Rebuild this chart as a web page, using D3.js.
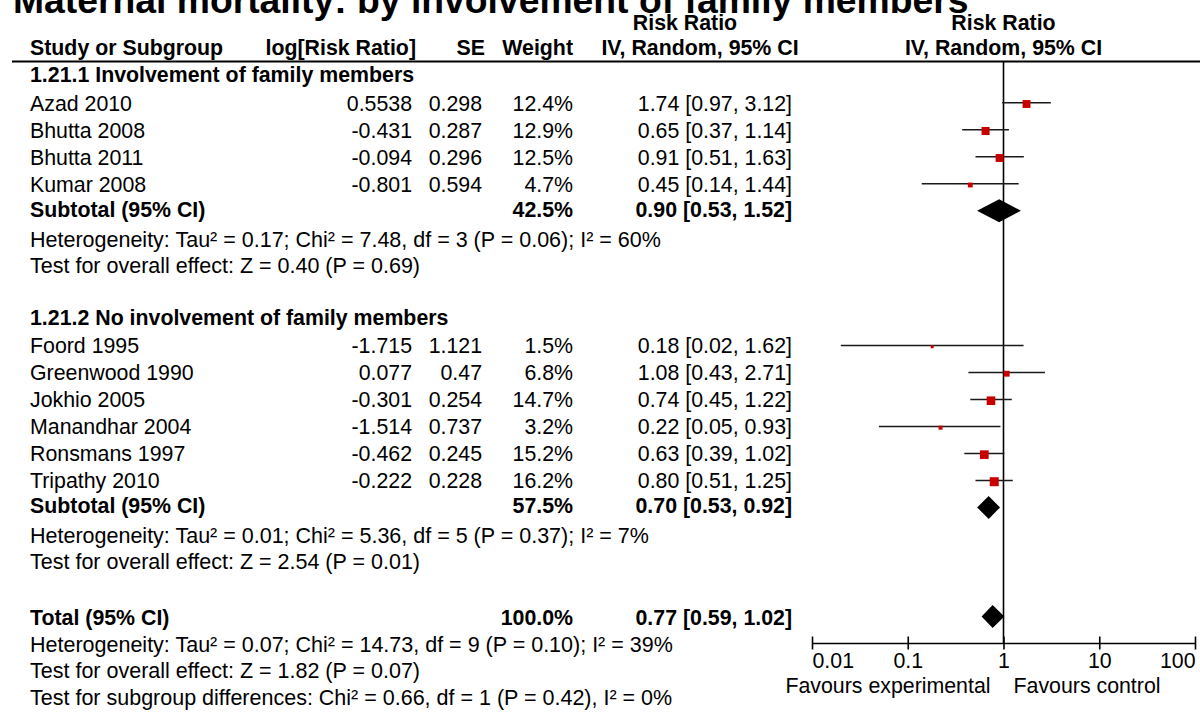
<!DOCTYPE html>
<html>
<head>
<meta charset="utf-8">
<script src="https://cdn.jsdelivr.net/npm/d3@7"></script>
<style>
  html, body { margin: 0; padding: 0; background: #fff; }
  svg { display: block; font-family: "Liberation Sans", Arial, Helvetica, sans-serif; }
</style>
</head>
<body>
<svg id="chart" width="1200" height="713"></svg>
<script>
// ---- data ----
const chartTitle = "Maternal mortality: by involvement of family members";
const groupTitles = ["1.21.1 Involvement of family members", "1.21.2 No involvement of family members"];

const group1Studies = ["Azad 2010", "Bhutta 2008", "Bhutta 2011", "Kumar 2008"];
const group1LogRR   = [0.5538, -0.431, -0.094, -0.801];
const group1SE      = [0.298, 0.287, 0.296, 0.594];
const group1Weight  = [12.4, 12.9, 12.5, 4.7];
const group1RR      = [1.74, 0.65, 0.91, 0.45];
const group1Lower   = [0.97, 0.37, 0.51, 0.14];
const group1Upper   = [3.12, 1.14, 1.63, 1.44];

const group2Studies = ["Foord 1995", "Greenwood 1990", "Jokhio 2005", "Manandhar 2004", "Ronsmans 1997", "Tripathy 2010"];
const group2LogRR   = [-1.715, 0.077, -0.301, -1.514, -0.462, -0.222];
const group2SE      = [1.121, 0.47, 0.254, 0.737, 0.245, 0.228];
const group2Weight  = [1.5, 6.8, 14.7, 3.2, 15.2, 16.2];
const group2RR      = [0.18, 1.08, 0.74, 0.22, 0.63, 0.80];
const group2Lower   = [0.02, 0.43, 0.45, 0.05, 0.39, 0.51];
const group2Upper   = [1.62, 2.71, 1.22, 0.93, 1.02, 1.25];

// pooled estimates: subgroup 1, subgroup 2, overall
const pooledLabels = ["Subtotal (95% CI)", "Subtotal (95% CI)", "Total (95% CI)"];
const pooledWeight = [42.5, 57.5, 100.0];
const pooledRR     = [0.90, 0.70, 0.77];
const pooledLower  = [0.53, 0.53, 0.59];
const pooledUpper  = [1.52, 0.92, 1.02];

const group1Notes = [
  "Heterogeneity: Tau\u00b2 = 0.17; Chi\u00b2 = 7.48, df = 3 (P = 0.06); I\u00b2 = 60%",
  "Test for overall effect: Z = 0.40 (P = 0.69)"
];
const group2Notes = [
  "Heterogeneity: Tau\u00b2 = 0.01; Chi\u00b2 = 5.36, df = 5 (P = 0.37); I\u00b2 = 7%",
  "Test for overall effect: Z = 2.54 (P = 0.01)"
];
const totalNotes = [
  "Heterogeneity: Tau\u00b2 = 0.07; Chi\u00b2 = 14.73, df = 9 (P = 0.10); I\u00b2 = 39%",
  "Test for overall effect: Z = 1.82 (P = 0.07)",
  "Test for subgroup differences: Chi\u00b2 = 0.66, df = 1 (P = 0.42), I\u00b2 = 0%"
];

const axisTicks  = [0.01, 0.1, 1, 10, 100];
const tickLabels = ["0.01", "0.1", "1", "10", "100"];
const axisLabels = ["Favours experimental", "Favours control"];

// ---- layout ----
const svg = d3.select("#chart");
const FS = 21.33;      // table text
const FS_NOTE = 21.5;  // heterogeneity / test lines
const col = { name: 30, logrr: 412, se: 482, weight: 573, ci: 792 };

const x = d3.scaleLog().domain([0.01, 100]).range([812, 1195]);
const boxSize = d3.scaleSqrt().domain([0, 16.2]).range([0, 9]);
const fmt2 = d3.format(".2f");
const fmtW = d => d3.format(".1f")(d) + "%";

// build the sequence of rows with text baselines
const rows = [];
let yb = 82;
function addGroup(title, names, lr, se, w, rr, lo, hi, pi, notes) {
  rows.push({ type: "heading", label: title, y: yb });
  yb += 28.7;
  names.forEach((n, i) => {
    rows.push({ type: "study", label: n, logrr: lr[i], se: se[i], weight: w[i], rr: rr[i], lo: lo[i], hi: hi[i], y: yb });
    if (i < names.length - 1) yb += 27;
  });
  yb += 25;
  rows.push({ type: "subtotal", label: pooledLabels[pi], weight: pooledWeight[pi], rr: pooledRR[pi], lo: pooledLower[pi], hi: pooledUpper[pi], y: yb });
  yb += 30;
  notes.forEach((t, i) => {
    rows.push({ type: "note", label: t, y: yb });
    if (i < notes.length - 1) yb += 26;
  });
}
addGroup(groupTitles[0], group1Studies, group1LogRR, group1SE, group1Weight, group1RR, group1Lower, group1Upper, 0, group1Notes);
yb += 52;
addGroup(groupTitles[1], group2Studies, group2LogRR, group2SE, group2Weight, group2RR, group2Lower, group2Upper, 1, group2Notes);
yb += 56;
rows.push({ type: "total", label: pooledLabels[2], weight: pooledWeight[2], rr: pooledRR[2], lo: pooledLower[2], hi: pooledUpper[2], y: yb });
totalNotes.forEach(t => {
  yb += 26.4;
  rows.push({ type: "note", label: t, y: yb });
});

// distance from a row's text baseline up to the centre of its mark
const markOffset = { study: 8, subtotal: 6, total: 9 };

// ---- title ----
svg.append("text")
  .attr("x", 13).attr("y", 13)
  .attr("font-size", 37.3).attr("font-weight", "bold")
  .text(chartTitle);

// ---- column headers ----
const hdr = svg.append("g").attr("font-size", FS).attr("font-weight", "bold");
const hy1 = 30, hy2 = 55;
hdr.append("text").attr("x", 685).attr("y", hy1).attr("text-anchor", "middle").text("Risk Ratio");
hdr.append("text").attr("x", x(1)).attr("y", hy1).attr("text-anchor", "middle").text("Risk Ratio");
hdr.append("text").attr("x", col.name).attr("y", hy2).text("Study or Subgroup");
hdr.append("text").attr("x", 416).attr("y", hy2).attr("text-anchor", "end").text("log[Risk Ratio]");
hdr.append("text").attr("x", 485).attr("y", hy2).attr("text-anchor", "end").text("SE");
hdr.append("text").attr("x", col.weight).attr("y", hy2).attr("text-anchor", "end").text("Weight");
hdr.append("text").attr("x", 700).attr("y", hy2).attr("text-anchor", "middle").text("IV, Random, 95% CI");
hdr.append("text").attr("x", x(1)).attr("y", hy2).attr("text-anchor", "middle").text("IV, Random, 95% CI");

svg.append("line")
  .attr("x1", 12).attr("x2", 1200).attr("y1", 61.5).attr("y2", 61.5)
  .attr("stroke", "#000").attr("stroke-width", 2);

// ---- table text ----
const tbl = svg.append("g").attr("font-size", FS).attr("fill", "#000");
rows.forEach(r => {
  const bold = (r.type === "heading" || r.type === "subtotal" || r.type === "total");
  tbl.append("text").attr("x", col.name).attr("y", r.y)
    .attr("font-size", r.type === "note" ? FS_NOTE : FS)
    .attr("font-weight", bold ? "bold" : "normal").text(r.label);
  if (r.type === "study") {
    tbl.append("text").attr("x", col.logrr).attr("y", r.y).attr("text-anchor", "end").text(String(r.logrr));
    tbl.append("text").attr("x", col.se).attr("y", r.y).attr("text-anchor", "end").text(String(r.se));
  }
  if (r.type === "study" || r.type === "subtotal" || r.type === "total") {
    tbl.append("text").attr("x", col.weight).attr("y", r.y).attr("text-anchor", "end")
      .attr("font-weight", bold ? "bold" : "normal").text(fmtW(r.weight));
    tbl.append("text").attr("x", col.ci).attr("y", r.y).attr("text-anchor", "end")
      .attr("font-weight", bold ? "bold" : "normal")
      .text(`${fmt2(r.rr)} [${fmt2(r.lo)}, ${fmt2(r.hi)}]`);
  }
});

// ---- plot ----
const axisY = 643;
const plot = svg.append("g");

// line of no effect
plot.append("line")
  .attr("x1", x(1)).attr("x2", x(1)).attr("y1", 62).attr("y2", axisY)
  .attr("stroke", "#000").attr("stroke-width", 1.6);

const studies = rows.filter(r => r.type === "study");
plot.selectAll("line.ci").data(studies).join("line")
  .attr("class", "ci")
  .attr("x1", d => x(d.lo)).attr("x2", d => x(d.hi))
  .attr("y1", d => d.y - markOffset.study).attr("y2", d => d.y - markOffset.study)
  .attr("stroke", "#1a1a1a").attr("stroke-width", 1.5);

const side = d => Math.max(3, boxSize(d.weight));
plot.selectAll("rect.box").data(studies).join("rect")
  .attr("class", "box")
  .attr("x", d => x(d.rr) - side(d) / 2)
  .attr("y", d => d.y - markOffset.study + 1.3 - side(d) / 2)
  .attr("width", side)
  .attr("height", side)
  .attr("fill", "#c80000");

const pooled = rows.filter(r => r.type === "subtotal" || r.type === "total");
plot.selectAll("path.diamond").data(pooled).join("path")
  .attr("class", "diamond")
  .attr("d", d => {
    const cy = d.y - markOffset[d.type], h = 11.5;
    return `M${x(d.lo)},${cy}L${x(d.rr)},${cy - h}L${x(d.hi)},${cy}L${x(d.rr)},${cy + h}Z`;
  })
  .attr("fill", "#000");

// ---- axis ----
const axis = d3.axisBottom(x)
  .tickValues(axisTicks)
  .tickFormat((d, i) => tickLabels[i])
  .tickSizeOuter(0)
  .tickSizeInner(6.5);

const ax = svg.append("g").attr("transform", `translate(0,${axisY})`).call(axis);
ax.select(".domain").attr("stroke", "#000").attr("stroke-width", 1.6);
ax.selectAll(".tick line").attr("y1", -6.5).attr("y2", 6.5).attr("stroke", "#000").attr("stroke-width", 1.6);
ax.selectAll(".tick text")
  .attr("y", 25).attr("dy", null)
  .attr("font-size", FS)
  .attr("font-family", "'Liberation Sans', Arial, sans-serif")
  .attr("fill", "#000")
  .attr("text-anchor", (d, i) => i === 0 ? "start" : (i === axisTicks.length - 1 ? "end" : "middle"));

svg.append("text").attr("x", x(1) - 13).attr("y", 693).attr("font-size", FS)
  .attr("text-anchor", "end").text(axisLabels[0]);
svg.append("text").attr("x", x(1) + 10).attr("y", 693).attr("font-size", FS)
  .attr("text-anchor", "start").text(axisLabels[1]);
</script>
</body>
</html>
